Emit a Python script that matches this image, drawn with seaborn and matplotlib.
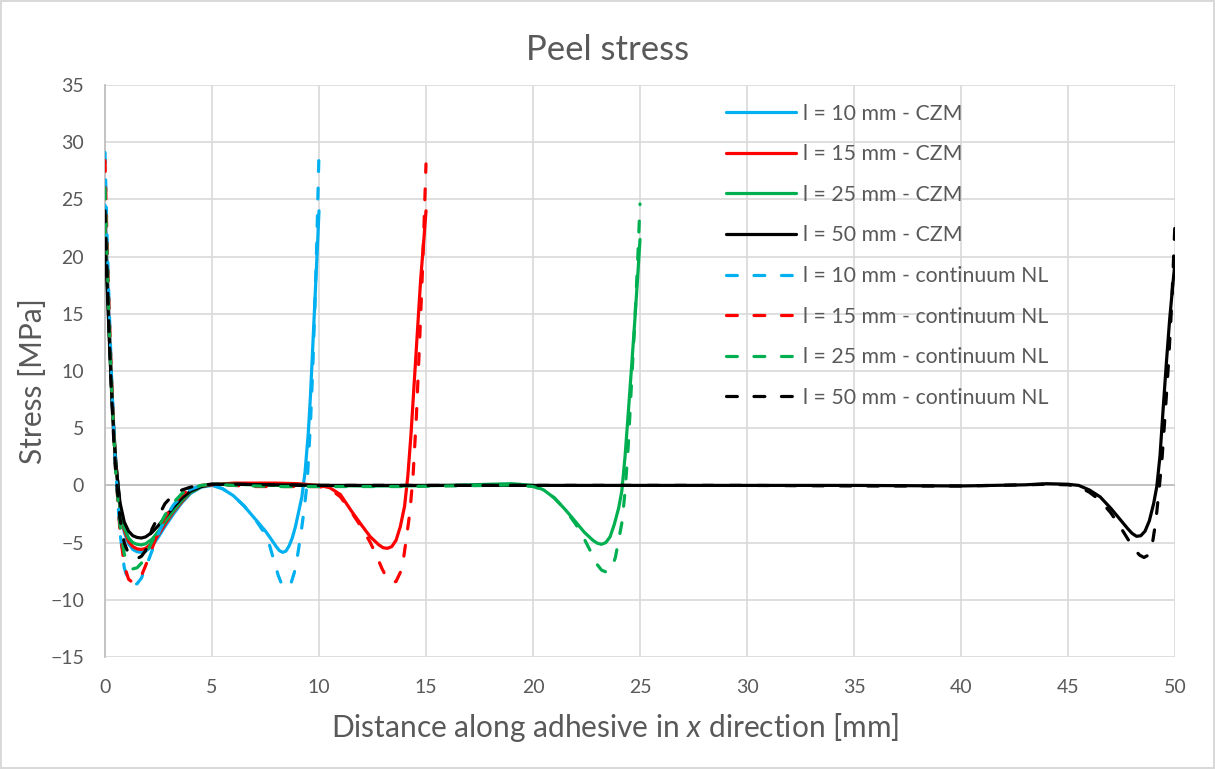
import matplotlib
matplotlib.use("Agg")
import matplotlib.pyplot as plt
import seaborn as sns
import pandas as pd

# ---------------- data ----------------
x_left = [0, 0.1, 0.2, 0.3, 0.4, 0.5, 0.7, 0.9, 1.1, 1.3, 1.5, 1.7, 1.9, 2.2, 2.5, 2.8, 3.2, 3.6, 4.0, 4.5, 5.0]

# l = 10 mm
x10_czm = x_left + [5.5, 6.0, 6.5, 7.0, 7.5, 7.8, 8.0, 8.15, 8.3, 8.45, 8.6, 8.75, 8.9, 9.05, 9.2, 9.35, 9.5, 9.6, 9.7, 9.8, 9.9, 10.0]
y10_czm = [24.5, 19.0, 14.0, 9.3, 5.4, 2.2, -2.0, -4.1, -5.1, -5.6, -5.8, -5.85, -5.75, -5.3, -4.5, -3.6, -2.5, -1.5, -0.7, -0.15, 0.0,
           -0.3, -0.9, -1.8, -2.9, -4.0, -4.8, -5.35, -5.7, -5.85, -5.75, -5.3, -4.6, -3.6, -2.3, -1.0, 1.2, 4.6, 7.8, 11.8, 15.8, 19.8, 24.0]
x10_nl = x_left + [5.5, 6.0, 6.5, 7.0, 7.5, 7.7, 7.9, 8.1, 8.25, 8.4, 8.55, 8.7, 8.85, 9.0, 9.15, 9.3, 9.45, 9.6, 9.7, 9.8, 9.9, 10.0]
y10_nl = [29.1, 21.5, 15.3, 9.8, 5.2, 1.4, -4.1, -7.2, -8.4, -8.7, -8.6, -8.1, -7.2, -5.7, -4.2, -2.9, -1.7, -0.9, -0.35, 0.0, 0.1,
          -0.3, -0.9, -1.8, -2.9, -4.3, -5.3, -6.6, -7.9, -8.6, -8.95, -8.9, -8.5, -7.6, -6.1, -4.3, -2.2, 0.3, 5.4, 9.8, 15.2, 21.5, 29.1]

# l = 15 mm
x15_czm = x_left + [6, 7, 8, 9, 10, 10.5, 11, 11.5, 12, 12.4, 12.8, 13.0, 13.2, 13.4, 13.6, 13.8, 14.0, 14.15, 14.3, 14.45, 14.6, 14.75, 14.9, 15.0]
y15_czm = [23.5, 18.5, 13.5, 9.0, 5.2, 2.1, -1.9, -3.9, -4.9, -5.35, -5.55, -5.6, -5.5, -5.05, -4.3, -3.4, -2.3, -1.4, -0.6, -0.1, 0.05,
           0.2, 0.2, 0.2, 0.15, 0.0, -0.2, -0.8, -2.2, -3.5, -4.5, -5.2, -5.45, -5.5, -5.35, -4.8, -3.6, -1.8, 0.8, 4.5, 9.0, 13.5, 18.0, 21.5, 24.0]
x15_nl = x_left + [6, 7, 8, 9, 10, 10.5, 11, 11.5, 12, 12.4, 12.7, 12.95, 13.2, 13.4, 13.6, 13.8, 13.95, 14.1, 14.25, 14.4, 14.55, 14.7, 14.85, 15.0]
y15_nl = [28.4, 21.0, 15.0, 9.5, 5.0, 1.3, -4.0, -7.0, -8.2, -8.5, -8.4, -7.9, -7.0, -5.5, -4.0, -2.8, -1.6, -0.8, -0.3, 0.0, 0.1,
          0.0, -0.1, -0.1, -0.1, -0.1, -0.3, -1.0, -2.3, -3.7, -5.0, -6.2, -7.3, -8.2, -8.5, -8.4, -7.6, -6.4, -4.4, -2.3, 1.0, 6.0, 12.5, 19.5, 28.1]

# l = 25 mm
x25_czm = x_left + [6, 8, 10, 12, 14, 16, 18, 19, 20, 20.5, 21, 21.5, 22, 22.4, 22.8, 23.0, 23.2, 23.4, 23.6, 23.8, 24.0, 24.15, 24.3, 24.45, 24.6, 24.75, 24.9, 25.0]
y25_czm = [22.5, 18.0, 13.2, 8.8, 5.0, 2.0, -1.8, -3.7, -4.6, -5.0, -5.15, -5.2, -5.1, -4.7, -4.0, -3.2, -2.2, -1.3, -0.6, -0.1, 0.1,
           0.1, 0.0, 0.0, -0.05, -0.05, 0.0, 0.1, 0.15, 0.0, -0.4, -1.1, -2.1, -3.2, -4.1, -4.8, -5.05, -5.15, -5.0, -4.5, -3.4, -2.0, -0.5, 2.5, 6.3, 10.2, 14.2, 18.5, 21.5]
x25_nl = x_left + [6, 8, 10, 12, 14, 16, 18, 19, 20, 20.5, 21, 21.5, 22, 22.4, 22.7, 22.95, 23.2, 23.45, 23.65, 23.85, 24.0, 24.15, 24.3, 24.45, 24.6, 24.75, 24.9, 25.0]
y25_nl = [26.0, 20.0, 14.0, 9.0, 4.8, 1.2, -3.5, -6.0, -7.0, -7.3, -7.2, -6.8, -6.1, -4.9, -3.7, -2.6, -1.5, -0.7, -0.25, 0.0, 0.1,
          0.0, -0.1, -0.1, -0.1, -0.1, -0.05, 0.0, 0.05, -0.1, -0.4, -1.1, -2.1, -3.4, -4.7, -5.8, -6.8, -7.4, -7.6, -7.4, -6.3, -4.8, -3.3, -0.6, 3.4, 8.8, 14.0, 20.0, 24.6]

# l = 50 mm
x50_czm = x_left + [6, 10, 15, 20, 25, 30, 35, 40, 43, 44, 45, 45.5, 46, 46.5, 47, 47.4, 47.8, 48.0, 48.2, 48.4, 48.6, 48.8, 49.0, 49.15, 49.3, 49.45, 49.6, 49.75, 49.9, 50.0]
y50_czm = [21.5, 17.5, 12.8, 8.5, 4.8, 2.0, -1.5, -3.2, -4.0, -4.4, -4.55, -4.6, -4.5, -4.1, -3.5, -2.8, -1.9, -1.1, -0.5, -0.1, 0.1,
           0.1, 0.0, 0.0, 0.0, 0.0, 0.0, 0.0, -0.05, 0.05, 0.15, 0.1, 0.0, -0.4, -1.0, -2.0, -2.9, -3.8, -4.2, -4.45, -4.4, -4.0, -3.1, -1.6, -0.1, 2.6, 6.8, 10.8, 14.5, 17.6, 19.5]
x50_nl = x_left + [6, 10, 15, 20, 25, 30, 35, 40, 43, 44, 45, 45.5, 46, 46.5, 47, 47.4, 47.8, 48.1, 48.35, 48.55, 48.75, 48.95, 49.1, 49.25, 49.4, 49.55, 49.7, 49.85, 50.0]
y50_nl = [24.0, 18.5, 13.0, 8.3, 4.3, 1.2, -2.9, -5.0, -6.0, -6.35, -6.4, -6.2, -5.7, -3.8, -2.7, -1.6, -0.8, -0.4, -0.15, 0.05, 0.1,
          0.1, 0.0, 0.0, 0.0, 0.0, 0.0, -0.05, -0.05, 0.05, 0.1, 0.05, -0.1, -0.6, -1.3, -2.4, -3.5, -4.7, -5.6, -6.1, -6.3, -6.1, -5.0, -3.2, -0.5, 2.5, 6.5, 10.8, 16.0, 23.0]

labels = ["l = 10 mm - CZM", "l = 15 mm - CZM", "l = 25 mm - CZM", "l = 50 mm - CZM",
          "l = 10 mm - continuum NL", "l = 15 mm - continuum NL",
          "l = 25 mm - continuum NL", "l = 50 mm - continuum NL"]
xs = [x10_czm, x15_czm, x25_czm, x50_czm, x10_nl, x15_nl, x25_nl, x50_nl]
ys = [y10_czm, y15_czm, y25_czm, y50_czm, y10_nl, y15_nl, y25_nl, y50_nl]
colors = ["#00B0F0", "#FF0000", "#00B050", "#000000"] * 2

x_ticks = list(range(0, 51, 5))
y_ticks = list(range(-15, 36, 5))

# ---------------- style ----------------
sns.set_style("white")
plt.rcParams["font.family"] = ["Lato", "DejaVu Sans"]
plt.rcParams["mathtext.fontset"] = "custom"
plt.rcParams["mathtext.rm"] = "Lato"
plt.rcParams["mathtext.it"] = "Lato:italic"
txt = "#595959"

fig = plt.figure(figsize=(12.15, 7.69), dpi=100)
fig.patch.set_edgecolor("#D9D9D9")
fig.patch.set_linewidth(1.5)
ax = fig.add_axes([105 / 1215, 1 - 657 / 769, (1175 - 105) / 1215, (657 - 85) / 769])

for i, (x, y, lab, c) in enumerate(zip(xs, ys, labels, colors)):
    df = pd.DataFrame({"x": x, "y": y})
    ls = "-" if i < 4 else (0, (3.4, 5.2))
    sns.lineplot(data=df, x="x", y="y", ax=ax, color=c, linewidth=2.3,
                 linestyle=ls, sort=False, estimator=None, label=lab,
                 solid_capstyle="round", dash_capstyle="round", legend=False, zorder=3 + i)

ax.set_xlim(0, 50)
ax.set_ylim(-15, 35)
ax.set_xticks(x_ticks)
ax.set_yticks(y_ticks)
ax.grid(True, color="#D9D9D9", linewidth=1.2)
ax.set_axisbelow(True)
ax.axhline(0, color="#BFBFBF", linewidth=1.3, zorder=1)
for s in ["top", "right", "bottom"]:
    ax.spines[s].set_visible(False)
ax.spines["left"].set_color("#BFBFBF")
ax.spines["left"].set_linewidth(1.3)
ax.tick_params(axis="both", length=0, labelsize=14, colors=txt)
ax.tick_params(axis="y", pad=15)
ax.tick_params(axis="x", pad=16)
ax.set_xlabel("")
ax.set_ylabel("")

fig.text(0.5, 1 - 50 / 769, "Peel stress", ha="center", va="center", fontsize=25, color=txt)
fig.text(615 / 1215, 1 - 727 / 769, r"Distance along adhesive in $x$ direction [mm]",
         ha="center", va="center", fontsize=21.5, color=txt)
fig.text(33 / 1215, 1 - 381 / 769, "Stress [MPa]", ha="center", va="center",
         rotation=90, fontsize=21.5, color=txt)

h, l = ax.get_legend_handles_labels()
leg = ax.legend(h, l, loc="upper left", bbox_to_anchor=(612 / 1070, 1 - 10 / 572),
                frameon=False, fontsize=15.3, handlelength=3.3, handletextpad=0.33,
                labelspacing=0.97, borderaxespad=0)
for t in leg.get_texts():
    t.set_color(txt)

fig.savefig("out.png", dpi=100)
